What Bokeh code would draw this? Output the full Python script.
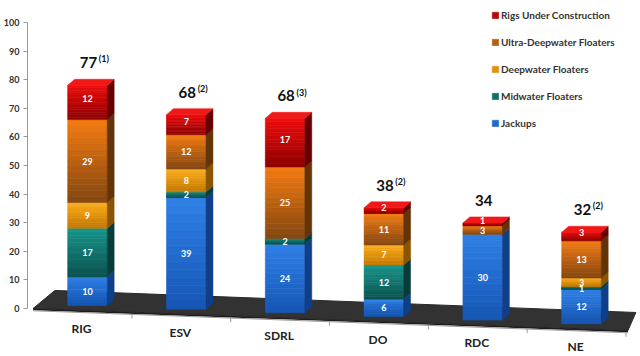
import numpy as np
from bokeh.plotting import figure
from bokeh.models import Range1d, FixedTicker, Legend, LegendItem, ColumnDataSource
from bokeh.core.properties import value
from bokeh.embed import file_html
from bokeh.resources import INLINE

# ---------------- data ----------------
companies = ["RIG", "ESV", "SDRL", "DO", "RDC", "NE"]
series_names = ["Jackups", "Midwater Floaters", "Deepwater Floaters",
                "Ultra-Deepwater Floaters", "Rigs Under Construction"]
jackups = [10, 39, 24, 6, 30, 12]
midwater = [17, 2, 2, 12, 0, 1]
deepwater = [9, 8, 0, 7, 0, 3]
ultra_deepwater = [29, 12, 25, 11, 3, 13]
under_construction = [12, 7, 17, 2, 1, 3]
totals = [77, 68, 68, 38, 34, 32]
footnotes = ["(1)", "(2)", "(3)", "(2)", "", "(2)"]
y_ticks = list(range(0, 101, 10))

stack = [jackups, midwater, deepwater, ultra_deepwater, under_construction]

# ---------------- styles ----------------
# (top colour, bottom colour, side colour)
styles = [
    ("#2f80e6", "#1656b4", "#0f3f88"),
    ("#16958a", "#0b5250", "#083c3a"),
    ("#ffae1c", "#c27800", "#8a5400"),
    ("#f47c12", "#844610", "#623406"),
    ("#f00c0c", "#8c0000", "#660000"),
]
FONT = "Lato"

def mix(c1, c2, t):
    a = [int(c1[i:i + 2], 16) for i in (1, 3, 5)]
    b = [int(c2[i:i + 2], 16) for i in (1, 3, 5)]
    return "#%02x%02x%02x" % tuple(int(round(a[k] + (b[k] - a[k]) * t)) for k in range(3))

n = len(companies)
xs = np.arange(n, dtype=float)
HW, DX, DY = 0.2, 0.07, 2.1          # half width, depth offsets (data units)
SLOPE = 1.28                        # perspective sink of the floor per category
XL, XR = -0.55, n - 1 + 0.47
def floor_front(x):
    return -SLOPE * (np.asarray(x, dtype=float) - XL)
base = floor_front(xs) + 1.75

p = figure(width=640, height=356,
           x_range=Range1d(-0.607, 5.597), y_range=Range1d(-16.1, 107.0),
           output_backend="svg", toolbar_location=None, x_axis_location=None,
           min_border_left=27, min_border_right=0, min_border_top=2, min_border_bottom=2)
p.outline_line_color = None
p.grid.grid_line_color = None
p.background_fill_color = "white"

yax = p.yaxis[0]
yax.ticker = FixedTicker(ticks=y_ticks)
yax.bounds = (0, 100)
yax.axis_line_color = "#9a9a9a"
yax.major_tick_line_color = "#9a9a9a"
yax.major_tick_out = 4
yax.major_tick_in = 0
yax.minor_tick_line_color = None
yax.major_label_standoff = 4
yax.major_label_text_font = FONT
yax.major_label_text_font_size = "9px"
yax.major_label_text_font_style = "bold"
yax.major_label_text_color = "#333333"

# ---------------- floor ----------------
fy_l, fy_r = float(floor_front(XL)), float(floor_front(XR))
p.patch(x=[XL, XR, XR + 0.08, XL + 0.22], y=[fy_l, fy_r, fy_r + 6.3, fy_l + 6.3],
        fill_color="#323232", line_color="#2a2a2a", line_width=1)
p.patch(x=[XL, XR, XR, XL], y=[fy_l, fy_r, fy_r - 0.6, fy_l - 0.6],
        fill_color="#1e1e1e", line_color=None)
# sloped category axis
p.line(x=[XL, XR], y=[fy_l - 0.8, fy_r - 0.8], line_color="#9a9a9a", line_width=1)
tick_x = xs + 0.45
tick_y = floor_front(tick_x) - 0.8
p.segment(x0=tick_x, y0=tick_y, x1=tick_x, y1=tick_y - 1.4, line_color="#9a9a9a")

# ---------------- bars ----------------
N_STRIPS = 14
cum = base.copy()
legend_items = []
seg_labels = dict(x=[], y=[], text=[])
top_series = [max(s for s in range(len(stack)) if stack[s][i] > 0) for i in range(n)]
for s_idx, vals in enumerate(stack):
    top_c, bot_c, side_c = styles[s_idx]
    strips = dict(left=[], right=[], bottom=[], top=[], color=[])
    side_x, side_y = [], []
    for i in range(n):
        v = vals[i]
        if v <= 0:
            continue
        b0 = cum[i]
        b1 = b0 + v
        for k in range(N_STRIPS):
            t0 = b1 - v * k / N_STRIPS
            t1 = b1 - v * (k + 1) / N_STRIPS
            strips["left"].append(xs[i] - HW)
            strips["right"].append(xs[i] + HW)
            strips["top"].append(t0)
            strips["bottom"].append(t1)
            strips["color"].append(mix(top_c, bot_c, (k + 0.5) / N_STRIPS))
        side_x.append([xs[i] + HW, xs[i] + HW + DX, xs[i] + HW + DX, xs[i] + HW])
        side_y.append([b0, b0 + DY, b1 + DY, b1])
        lift = DY * 0.6 if top_series[i] == s_idx else 0.0
        seg_labels["x"].append(xs[i])
        seg_labels["y"].append((b0 + b1) / 2 + lift)
        seg_labels["text"].append(str(v))
        cum[i] = b1
    bar_r = p.quad(left="left", right="right", bottom="bottom", top="top",
                   fill_color="color", line_color="color", line_width=0.6,
                   source=ColumnDataSource(strips))
    p.patches(xs=side_x, ys=side_y, fill_color=side_c, line_color=side_c, line_width=0.5)
    legend_items.append(LegendItem(label=series_names[s_idx], renderers=[bar_r],
                                   index=N_STRIPS // 2))

# top faces of each bar (colour of the top-most non-zero segment)
top_x, top_y, top_col = [], [], []
for i in range(n):
    t = cum[i]
    top_x.append([xs[i] - HW, xs[i] + HW, xs[i] + HW + DX, xs[i] - HW + DX])
    top_y.append([t, t, t + DY, t + DY])
    top_col.append(mix(styles[top_series[i]][0], "#ffffff", 0.05))
p.patches(xs=top_x, ys=top_y, fill_color=top_col, line_color=top_col, line_width=0.5)

# segment value labels (drawn above every face)
p.text(x="x", y="y", text="text", source=ColumnDataSource(seg_labels),
       text_color="white", text_font=value(FONT), text_font_size="9px",
       text_font_style="bold", text_align="center", text_baseline="middle")

# ---------------- totals ----------------
tot_src = ColumnDataSource(dict(x=xs + 0.01, y=cum + 7.9, text=[str(t) for t in totals]))
p.text(x="x", y="y", text="text", source=tot_src, text_color="#111111",
       text_font=value(FONT), text_font_size="15px", text_font_style="bold",
       text_align="center", text_baseline="middle")
fn_src = ColumnDataSource(dict(x=xs + 0.115, y=cum + 9.2, text=footnotes))
p.text(x="x", y="y", text="text", source=fn_src, text_color="#111111",
       text_font=value(FONT), text_font_size="9px", text_font_style="bold",
       text_align="left", text_baseline="middle")

# ---------------- category labels ----------------
cat_src = ColumnDataSource(dict(x=xs - 0.06, y=-7.0 - 1.26 * xs, text=companies))
p.text(x="x", y="y", text="text", source=cat_src, text_color="#222222",
       text_font=value(FONT), text_font_size="12px", text_font_style="bold",
       text_align="center", text_baseline="middle")

# ---------------- legend ----------------
legend = Legend(items=list(reversed(legend_items)), location=(464, 225),
                orientation="vertical", glyph_width=8, glyph_height=8,
                label_height=11, spacing=15, padding=0, margin=0, label_standoff=2,
                label_text_font=FONT, label_text_font_size="10px",
                label_text_font_style="bold", label_text_color="#333333",
                border_line_alpha=0, background_fill_alpha=0)
p.add_layout(legend)

open("out.html", "w").write(file_html(p, INLINE))
